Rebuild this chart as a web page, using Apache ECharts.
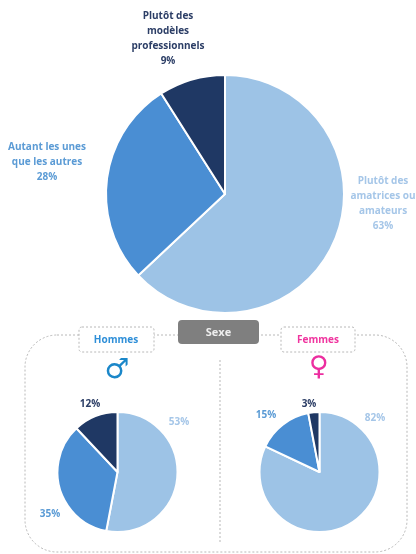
<!DOCTYPE html>
<html>
<head>
<meta charset="utf-8">
<script src="https://cdn.jsdelivr.net/npm/echarts@6/dist/echarts.min.js"></script>
<style>
  html, body { margin: 0; padding: 0; background: #fff; }
  #main { width: 416px; height: 554px; }
</style>
</head>
<body>
<div id="main"></div>
<script>
const categories = ['Plutôt des amatrices ou amateurs', 'Autant les unes que les autres', 'Plutôt des modèles professionnels'];
const totalValues = [63, 28, 9];
const hommesValues = [53, 35, 12];
const femmesValues = [82, 15, 3];
const colors = ['#9dc3e6', '#4a8ed3', '#1f3864'];
const textColors = ['#a5c6e8', '#5b9bd5', '#2c3e66'];
const fontName = '"Open Sans", sans-serif';

function pie(values, center, radius, labelPos, texts, fontSize, lineHeight) {
  return {
    type: 'pie',
    silent: true,
    startAngle: 90,
    clockwise: true,
    center: center,
    radius: radius,
    animation: false,
    data: values.map((v, i) => ({
      name: categories[i],
      value: v,
      itemStyle: { color: colors[i] },
      label: { color: textColors[i] }
    })),
    itemStyle: { borderColor: '#fff', borderWidth: 2 },
    labelLine: { show: false },
    label: {
      show: true,
      position: 'outside',
      width: 110, // sans largeur fixe, echarts tronque le texte
      overflow: 'none',
      fontFamily: fontName,
      fontWeight: 'bold',
      fontSize: fontSize,
      lineHeight: lineHeight,
      align: 'center',
      formatter: p => texts[p.dataIndex]
    },
    labelLayout: p => ({
      x: labelPos[p.dataIndex][0],
      y: labelPos[p.dataIndex][1],
      align: 'center',
      verticalAlign: 'middle'
    })
  };
}

function dashedBox(x, y, w, h, r) {
  return {
    type: 'rect',
    shape: { x: x, y: y, width: w, height: h, r: r },
    style: { fill: '#fff', stroke: '#b8b8b8', lineWidth: 1, lineDash: [2, 2] }
  };
}

function label(text, x, y, color, size, family) {
  return {
    type: 'text',
    x: x,
    y: y,
    style: {
      text: text,
      fill: color,
      font: 'bold ' + size + 'px ' + (family || fontName),
      align: 'center',
      verticalAlign: 'middle'
    }
  };
}

let myChart = echarts.init(document.getElementById('main'), null, { renderer: 'canvas' });

let option = {
  backgroundColor: '#fff',
  graphic: [
    dashedBox(25, 335, 382, 217, 32),
    {
      type: 'line',
      shape: { x1: 220, y1: 360, x2: 220, y2: 544 },
      style: { stroke: '#b8b8b8', lineWidth: 1, lineDash: [2, 2] }
    },
    dashedBox(79, 327, 75, 25, 3),
    dashedBox(281, 327, 74, 25, 3),
    {
      type: 'rect',
      shape: { x: 178, y: 320, width: 81, height: 24, r: 4 },
      style: { fill: '#7f7f7f' }
    },
    label('Sexe', 218.5, 333, '#eeeeee', 11),
    label('Hommes', 116, 340, '#2f8fd8', 10),
    label('Femmes', 318, 340, '#f0359f', 10),
    label('♂', 117, 371, '#1b87c9', 28, '"DejaVu Sans"'),
    label('♀', 319, 368, '#ec2ea0', 27, '"DejaVu Sans"')
  ],
  series: [
    pie(totalValues, [225, 194], 119, [[383, 204], [47, 162], [168, 39]],
      ['Plutôt des\namatrices ou\namateurs\n63%', 'Autant les unes\nque les autres\n28%', 'Plutôt des\nmodèles\nprofessionnels\n9%'], 10, 15),
    pie(hommesValues, [117.5, 472], 60, [[179, 422], [50, 514], [90, 404]],
      ['53%', '35%', '12%'], 10, 12),
    pie(femmesValues, [319.5, 472], 60, [[375, 418], [266, 415], [309, 404]],
      ['82%', '15%', '3%'], 10, 12)
  ]
};

option && myChart.setOption(option);
</script>
</body>
</html>
